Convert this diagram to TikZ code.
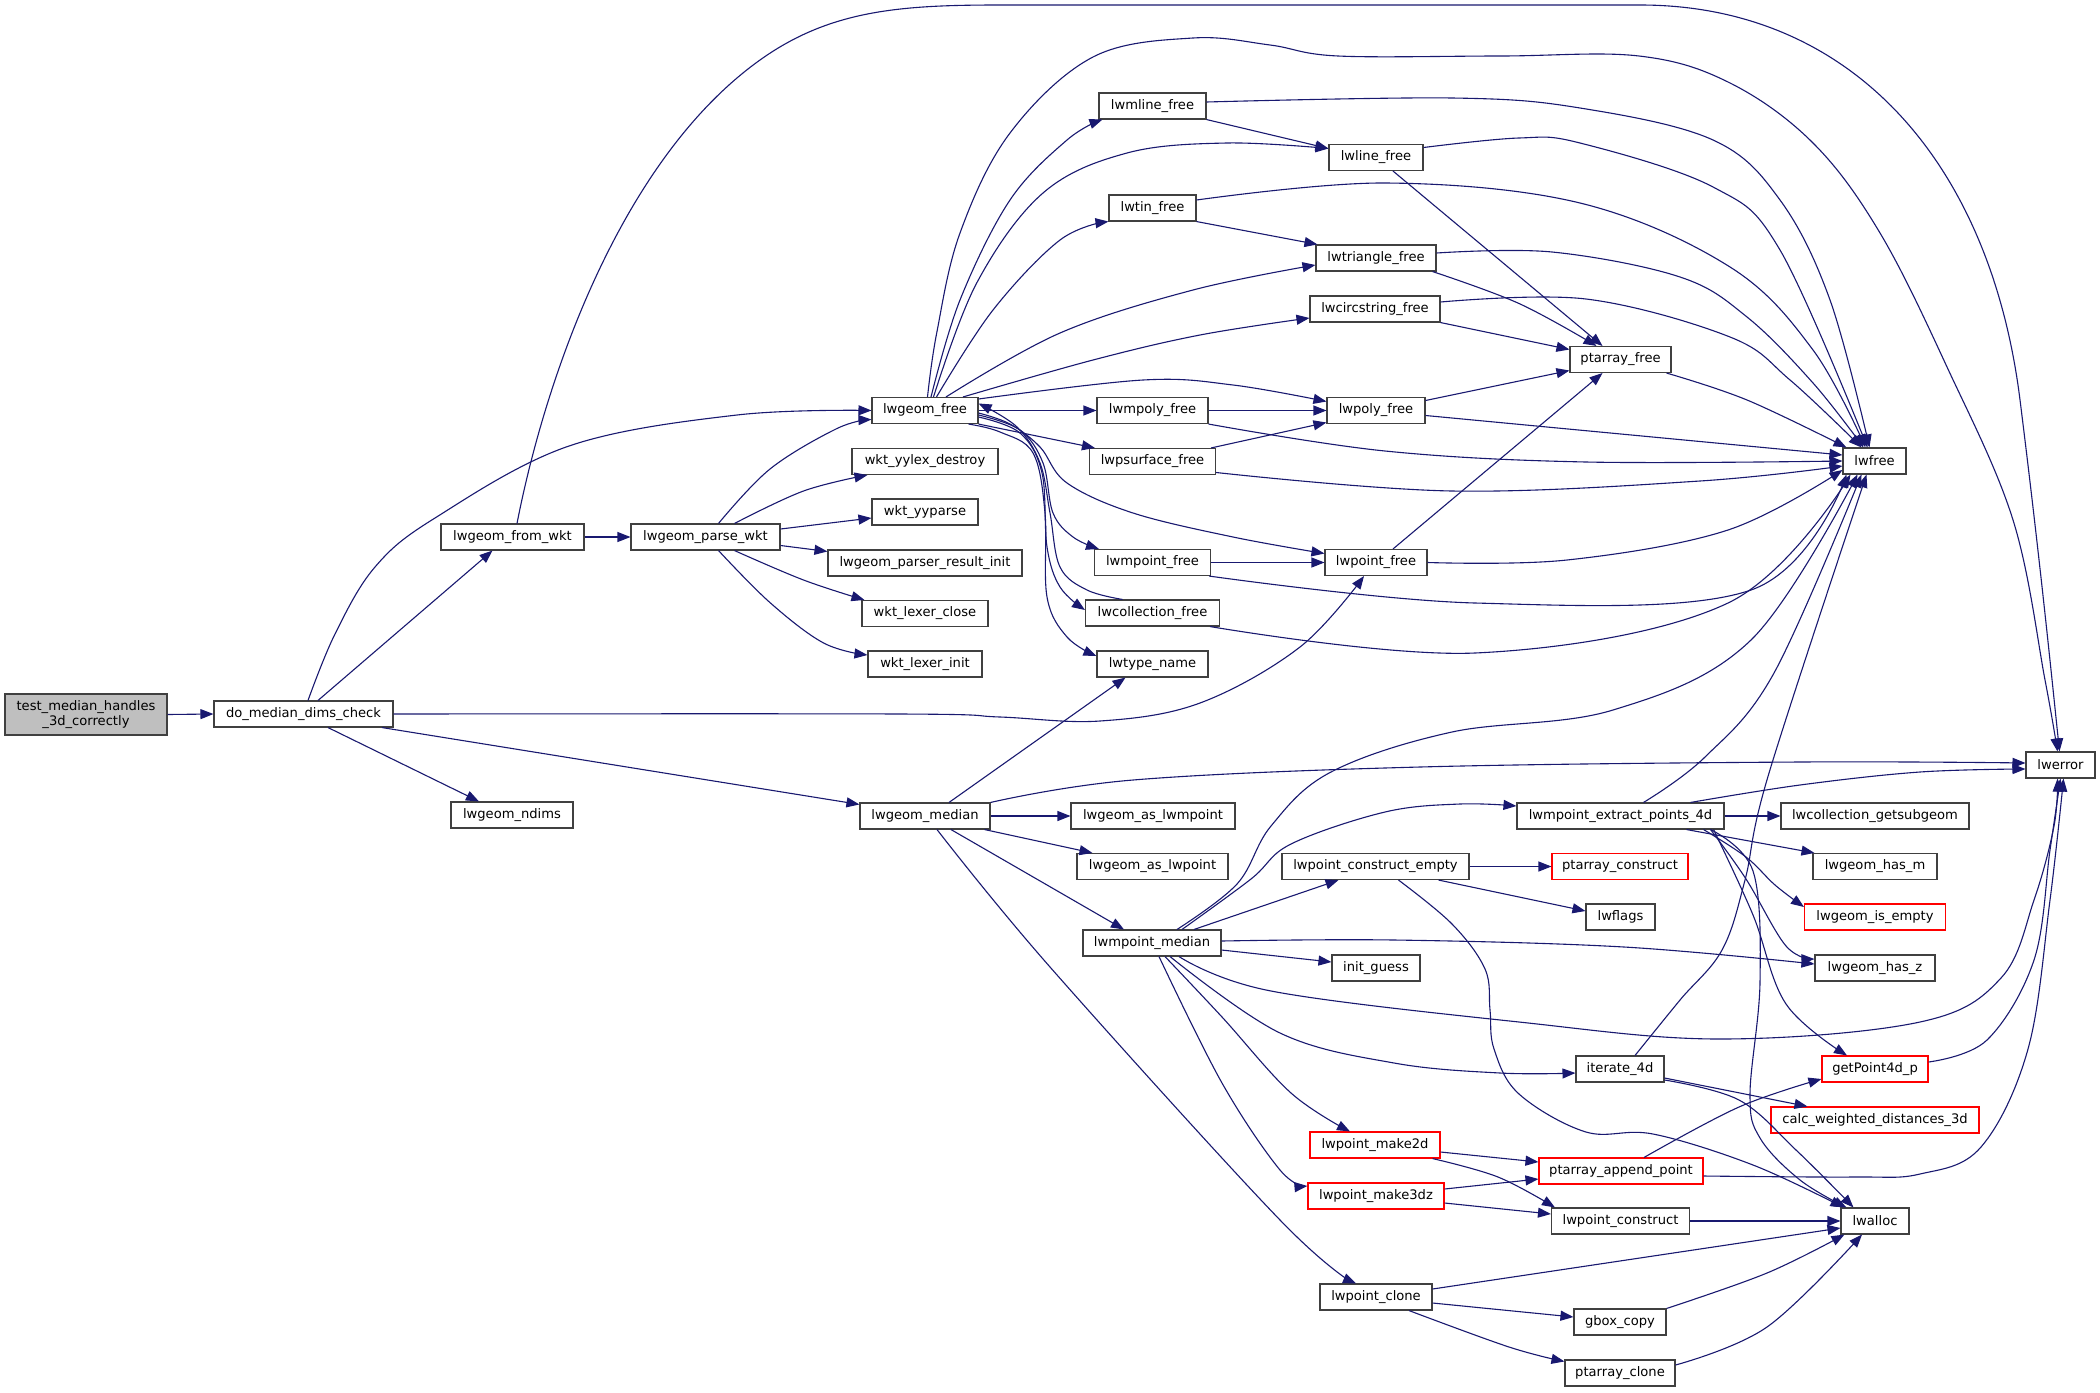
\documentclass[tikz,border=0pt]{standalone}
\usepackage{fontspec}
\setmainfont{DejaVu Sans}
\usetikzlibrary{arrows.meta}
\definecolor{navy}{HTML}{191970}
\definecolor{boxline}{HTML}{404040}
\definecolor{rootfill}{HTML}{BFBFBF}
\tikzset{
  fn/.style={draw=boxline, line width=1.1pt, minimum height=26pt, inner sep=0pt,
    font=\fontsize{13.1pt}{15pt}\selectfont, align=center},
  rednode/.style={fn, draw=red},
  e/.style={draw=navy, line width=1.1pt, -{Triangle[length=13pt,width=10pt]}},
}
\newcommand\edg[1]{\draw[e] plot[smooth,tension=0.6] coordinates {#1};}
\begin{document}
\begin{tikzpicture}[x=1pt,y=-1pt]
\fill[white] (0,0) rectangle (2100,1392);
\useasboundingbox (0,0) rectangle (2100,1392);

% nodes
\node[fn, fill=rootfill, minimum width=162pt, minimum height=41pt] (root) at (86,714.5) {test\_median\_handles\\\_3d\_correctly};
\node[fn, minimum width=179pt] (dmdc) at (303.5,714) {do\_median\_dims\_check};
\node[fn, minimum width=143pt] (from_wkt) at (512.5,537) {lwgeom\_from\_wkt};
\node[fn, minimum width=122pt] (ndims) at (512,815) {lwgeom\_ndims};
\node[fn, minimum width=149pt] (parse_wkt) at (705.5,537) {lwgeom\_parse\_wkt};
\node[fn, minimum width=106pt] (gfree) at (925,410.5) {lwgeom\_free};
\node[fn, minimum width=146pt] (yylex) at (925,461.5) {wkt\_yylex\_destroy};
\node[fn, minimum width=106pt] (yyparse) at (925,512) {wkt\_yyparse};
\node[fn, minimum width=194pt] (pri) at (925,563) {lwgeom\_parser\_result\_init};
\node[fn, minimum width=126pt] (lclose) at (925,613.5) {wkt\_lexer\_close};
\node[fn, minimum width=114pt] (linit) at (925,664) {wkt\_lexer\_init};
\node[fn, minimum width=130pt] (gmedian) at (925,816) {lwgeom\_median};
\node[fn, minimum width=107pt] (mline) at (1152.5,106) {lwmline\_free};
\node[fn, minimum width=87pt] (tin) at (1152.5,208) {lwtin\_free};
\node[fn, minimum width=111pt] (mpoly) at (1152.5,410.5) {lwmpoly\_free};
\node[fn, minimum width=126pt] (psurf) at (1152.5,461.5) {lwpsurface\_free};
\node[fn, minimum width=116pt] (mpoint) at (1152.5,562.5) {lwmpoint\_free};
\node[fn, minimum width=134pt] (coll) at (1152.5,613) {lwcollection\_free};
\node[fn, minimum width=111pt] (tname) at (1152.5,664) {lwtype\_name};
\node[fn, minimum width=164pt] (asmp) at (1153,816) {lwgeom\_as\_lwmpoint};
\node[fn, minimum width=151pt] (asp) at (1152.5,866.5) {lwgeom\_as\_lwpoint};
\node[fn, minimum width=138pt] (mpmedian) at (1152,943) {lwmpoint\_median};
\node[fn, minimum width=94pt] (line) at (1376,157.5) {lwline\_free};
\node[fn, minimum width=120pt] (tri) at (1376,258) {lwtriangle\_free};
\node[fn, minimum width=130pt] (circ) at (1375,309) {lwcircstring\_free};
\node[fn, minimum width=98pt] (poly) at (1376,410.5) {lwpoly\_free};
\node[fn, minimum width=102pt] (point) at (1376,562.5) {lwpoint\_free};
\node[fn, minimum width=187pt] (pce) at (1375.5,866.5) {lwpoint\_construct\_empty};
\node[fn, minimum width=88pt] (iguess) at (1376,968) {init\_guess};
\node[rednode, minimum width=130pt] (make2d) at (1375,1145) {lwpoint\_make2d};
\node[rednode, minimum width=136pt] (make3dz) at (1376,1196) {lwpoint\_make3dz};
\node[fn, minimum width=112pt] (pclone) at (1376,1297) {lwpoint\_clone};
\node[fn, minimum width=101pt] (pafree) at (1620.5,359.5) {ptarray\_free};
\node[fn, minimum width=207pt] (extract) at (1620.5,816) {lwmpoint\_extract\_points\_4d};
\node[rednode, minimum width=136pt] (pacons) at (1620,866.5) {ptarray\_construct};
\node[fn, minimum width=69pt] (flags) at (1620.5,917) {lwflags};
\node[fn, minimum width=88pt] (iter) at (1620,1069) {iterate\_4d};
\node[rednode, minimum width=164pt] (append) at (1621,1171) {ptarray\_append\_point};
\node[fn, minimum width=138pt] (pconstruct) at (1620.5,1221) {lwpoint\_construct};
\node[fn, minimum width=92pt] (gbox) at (1620,1322) {gbox\_copy};
\node[fn, minimum width=110pt] (paclone) at (1620,1373) {ptarray\_clone};
\node[fn, minimum width=63pt] (lwfree) at (1874.5,461) {lwfree};
\node[fn, minimum width=188pt] (getsub) at (1875,816) {lwcollection\_getsubgeom};
\node[fn, minimum width=124pt] (hasm) at (1875,866.5) {lwgeom\_has\_m};
\node[rednode, minimum width=141pt] (isempty) at (1875,917) {lwgeom\_is\_empty};
\node[fn, minimum width=120pt] (hasz) at (1875,968) {lwgeom\_has\_z};
\node[rednode, minimum width=106pt] (getp) at (1875,1069) {getPoint4d\_p};
\node[rednode, minimum width=208pt] (calc) at (1875,1120) {calc\_weighted\_distances\_3d};
\node[fn, minimum width=68pt] (lwalloc) at (1875,1221) {lwalloc};
\node[fn, minimum width=69pt] (lwerror) at (2060.5,765) {lwerror};

% edges: root and do_median_dims_check
\draw[e] (root.east) -- (dmdc.west);
\edg{([xshift=4.5pt]dmdc.north) (335,634) (375,567) (435,518) (569,446) (737,415) (gfree.west)}
\draw[e] ([xshift=14.5pt]dmdc.north) -- ([xshift=-20pt]from_wkt.south);
\edg{(dmdc.east) (900,714) (1000,717) (1100,721) (1200,703) (1300,647) ([xshift=-12pt]point.south)}
\draw[e] ([xshift=24.5pt]dmdc.south) -- ([xshift=-33pt]ndims.north);
\draw[e] ([xshift=78.5pt]dmdc.south) -- ([yshift=-2pt]gmedian.north west);

% lwgeom_from_wkt
\draw[e] ([xshift=4.5pt]from_wkt.north) .. controls (545,380) and (620,160) .. (760,60)
  .. controls (830,10) and (900,5) .. (1000,5) -- (1640,5)
  .. controls (1850,5) and (1990,160) .. (2020,400)
  .. controls (2040,560) and (2052,680) .. ([xshift=-1pt]lwerror.north);
\draw[e] (from_wkt.east) -- (parse_wkt.west);

% lwgeom_parse_wkt
\edg{([xshift=13pt]parse_wkt.north) (770,469) (837,428.5) ([yshift=-9pt]gfree.west)}
\edg{([xshift=29pt]parse_wkt.north) (803.5,491) ([xshift=16pt]yylex.south west)}
\draw[e] ([yshift=8pt]parse_wkt.east) -- ([yshift=-6pt]yyparse.west);
\draw[e] ([yshift=-8.5pt]parse_wkt.east) -- ([yshift=-2pt]pri.north west);
\edg{([xshift=29pt]parse_wkt.south) (803.5,580) ([xshift=3pt]lclose.north west)}
\edg{([xshift=13pt]parse_wkt.south) (770,602.6) (823.6,643) ([yshift=9pt]linit.west)}

% lwgeom_free
\edg{([xshift=6pt]gfree.north) (960,300) (1010,200) (1067,140) ([xshift=4pt]mline.south west)}
\edg{([xshift=8.5pt]gfree.north) (976.7,283) (1043,193) (1127,153) (1227,143) ([yshift=9pt]line.west)}
\edg{([xshift=11.5pt]gfree.north) (993,310) (1060,240) (tin.south west)}
\edg{([xshift=21pt]gfree.north) (1060,333) (1193,290) ([yshift=-7pt]tri.west)}
\edg{([xshift=38pt]gfree.north) (1093,360) (1200,335) ([yshift=-9pt]circ.west)}
\edg{([yshift=11.5pt]gfree.east) (1143,380) (1233,385) ([yshift=9pt]poly.west)}
\draw[e] (gfree.east) -- (mpoly.west);
\draw[e] (gfree.south east) -- ([xshift=6pt]psurf.north west);
\edg{([yshift=-2.5pt]gfree.east) (1010,424) (1040,447) (1067,483) (1133,513) (1233,537) ([yshift=9pt]point.west)}
\edg{([yshift=-4.5pt]gfree.east) (1020,430) (1043,463) (1053,513) (1073,537) ([xshift=5pt]mpoint.north west)}
\edg{([yshift=-6.5pt]gfree.east) (1020,433) (1042,473) (1047,547) (1060,587) ([yshift=3pt]coll.west)}
\edg{([xshift=-10pt]gfree.south east) (1000,432) (1033,453) (1045,513) (1047,597) (1067,637) ([yshift=8pt]tname.west)}
\edg{([xshift=-30pt]coll.north) (1087,590) (1060,567) (1050,513) (1040,463) (1017,427) ([yshift=7pt]gfree.east)}
\edg{([xshift=2.5pt]gfree.north) (936.7,333) (960,233) (1010,133) (1093,57) (1193,38) (1270,45) (1338,56) (1500,56) (1639,56) (1730,83) (1813,143) (1880,233) (1947,367) (2013,520) (2045,680) ([xshift=-3pt]lwerror.north)}

% free functions
\draw[e] (mline.south east) -- ([yshift=9pt]line.west);
\edg{([yshift=4pt]mline.east) (1452,98) (1580,108) (1713,140) (1780,200) (1830,300) ([xshift=-5pt]lwfree.north)}
\edg{([yshift=10pt]line.east) (1519,138) (1580,143) (1713,187) (1780,250) ([xshift=-7pt]lwfree.north)}
\draw[e] ([xshift=17pt]line.south) -- ([xshift=-18pt]pafree.north);
\draw[e] (tin.south east) -- ([xshift=2pt]tri.north west);
\edg{([yshift=8pt]tin.east) (1385,183) (1580,203) (1730,267) (1813,350) ([xshift=-9pt]lwfree.north)}
\edg{([xshift=-4pt]tri.south east) (1519,303.5) ([xshift=-24pt]pafree.north)}
\edg{([yshift=5pt]tri.east) (1552,252) (1680,277) (1747,317) (1813,383) ([xshift=-11pt]lwfree.north)}
\draw[e] (circ.south east) -- ([yshift=10pt]pafree.west);
\edg{([yshift=7pt]circ.east) (1586,299) (1730,337) (1790,380) ([xshift=-13pt]lwfree.north)}
\edg{([xshift=-5pt]pafree.south east) (1747,400) ([xshift=4pt]lwfree.north west)}
\draw[e] ([yshift=10pt]poly.east) -- ([yshift=-11pt]pafree.west);
\draw[e] ([yshift=-5pt]poly.east) -- ([yshift=6pt]lwfree.west);
\draw[e] (mpoly.east) -- (poly.west);
\edg{(mpoly.south east) (1385,451) (1586,462) (lwfree.west)}
\draw[e] ([xshift=-5pt]psurf.north east) -- ([yshift=-12pt]poly.west);
\edg{([yshift=-11pt]psurf.east) (1452,491) (1700,481) ([yshift=-5pt]lwfree.west)}
\draw[e] (mpoint.east) -- (point.west);
\edg{([xshift=-2pt]mpoint.south east) (1475,603) (1751,590) ([xshift=4pt]lwfree.south west)}
\draw[e] ([xshift=17pt]point.north) -- ([xshift=-18pt]pafree.south);
\edg{(point.east) (1567,560) (1728,530) ([yshift=-9pt]lwfree.west)}
\edg{([xshift=-10pt]coll.south east) (1475,653) (1728,603) ([xshift=8pt]lwfree.south west)}

% lwgeom_median
\draw[e] ([xshift=24pt]gmedian.north) -- ([xshift=-27pt]tname.south);
\draw[e] (gmedian.east) -- (asmp.west);
\draw[e] ([xshift=-6pt]gmedian.south east) -- ([xshift=16pt]asp.north west);
\draw[e] ([xshift=26pt]gmedian.south) -- ([xshift=-28pt]mpmedian.north);
\edg{([xshift=12pt]gmedian.south) (1050,967) (1280,1220) ([xshift=-20pt]pclone.north)}
\edg{(gmedian.north east) (1133,780) (1420,767) (1800,762) ([yshift=2pt]lwerror.west)}

% lwmpoint_median
\edg{([xshift=25pt]mpmedian.north) (1237,884) (1271,826) (1331,772) (1452,732) (1613,710) (1751,640) ([xshift=-17pt]lwfree.south)}
\edg{([xshift=30pt]mpmedian.north) (1251,879) (1291,844) (1385,812) (1460,804) ([yshift=10pt]extract.west)}
\draw[e] ([xshift=42pt]mpmedian.north) -- ([xshift=-37pt]pce.south);
\edg{([yshift=2pt]mpmedian.east) (1394,940) (1624,947) ([yshift=4pt]hasz.west)}
\draw[e] ([yshift=-7pt]mpmedian.east) -- ([yshift=6pt]iguess.west);
\edg{([xshift=27pt]mpmedian.south) (1271,991) (1519,1022) (1720,1039) (1920,1022) (2001,978) (2034,900) (2054,826) ([xshift=-3pt]lwerror.south)}
\edg{([xshift=18pt]mpmedian.south) (1280,1033) (1394,1063) (1500,1073) ([yshift=-4pt]iter.west)}
\edg{([xshift=13pt]mpmedian.south) (1222,1017) (1291,1093) ([xshift=-25pt]make2d.north)}
\edg{([xshift=7pt]mpmedian.south) (1222,1083) (1280,1170) ([yshift=10pt]make3dz.west)}

% lwpoint_construct_empty
\draw[e] (pce.east) -- (pacons.west);
\draw[e] ([xshift=-31pt]pce.south east) -- ([yshift=6pt]flags.west);
\edg{([xshift=23pt]pce.south) (1452,924) (1485,969) (1490,1010) (1494,1049) (1519,1094) (1586,1132) (1653,1134) (1753,1165) ([xshift=3pt]lwalloc.north west)}

% lwmpoint_extract_points_4d
\draw[e] (extract.east) -- (getsub.west);
\draw[e] ([xshift=-38pt]extract.south east) -- ([xshift=2pt]hasm.north west);
\edg{([xshift=-21pt]extract.south east) (1746,857) (1775,885) ([yshift=10pt]isempty.west)}
\edg{([xshift=-14pt]extract.south east) (1746,879) (1786,946) ([yshift=9pt]hasz.west)}
\edg{([xshift=-11pt]extract.south east) (1753,915) (1786,1004) ([xshift=-28pt]getp.north)}
\edg{([xshift=-14pt]extract.south east) (1753,871) (1760,982) (1750,1094) (1760,1138) (1800,1180) ([xshift=6pt]lwalloc.north west)}
\edg{([xshift=70pt]extract.north) (1800,785) (1920,772) ([yshift=-4pt]lwerror.west)}
\edg{([xshift=23pt]extract.north) (1705,757) (1774,673) ([xshift=-13pt]lwfree.south)}

% iterate_4d
\edg{([xshift=15pt]iter.north) (1680,1000) (1722,950) (1745,880) (1769,773) ([xshift=-8pt]lwfree.south)}
\draw[e] ([yshift=-9pt]iter.east) -- ([xshift=37pt]calc.north west);
\edg{([yshift=-11pt]iter.east) (1739,1100) (1796,1150) ([xshift=13pt]lwalloc.north west)}

% getPoint4d_p and ptarray_append_point
\edg{([yshift=7pt]getp.east) (1987,1040) (2034,960) (2050,850) (lwerror.south)}
\edg{([xshift=23pt]append.north) (1739,1107) ([yshift=-10pt]getp.west)}
\edg{([yshift=-5pt]append.east) (1854,1177) (1920,1174) (1981,1147) (2028,1049) (2050,900) ([xshift=3pt]lwerror.south)}

% make2d / make3dz / construct / clone
\draw[e] ([yshift=-7pt]make2d.east) -- ([yshift=9pt]append.west);
\edg{([xshift=-8pt]make2d.south east) (1498,1177) ([xshift=4pt]pconstruct.north west)}
\draw[e] ([yshift=7pt]make3dz.east) -- ([yshift=-8pt]append.west);
\draw[e] ([yshift=-7pt]make3dz.east) -- ([yshift=7pt]pconstruct.west);
\draw[e] (pconstruct.east) -- (lwalloc.west);
\draw[e] ([yshift=8pt]pclone.east) -- ([yshift=-7pt]lwalloc.west);
\draw[e] ([yshift=-6pt]pclone.east) -- ([yshift=5pt]gbox.west);
\edg{([xshift=33pt]pclone.south) (1509,1347) ([yshift=-2pt]paclone.north west)}
\edg{(gbox.north east) (1767,1273) ([xshift=4pt]lwalloc.south west)}
\edg{([yshift=8pt]paclone.east) (1767,1327) ([xshift=-13pt]lwalloc.south)}
\end{tikzpicture}
\end{document}
